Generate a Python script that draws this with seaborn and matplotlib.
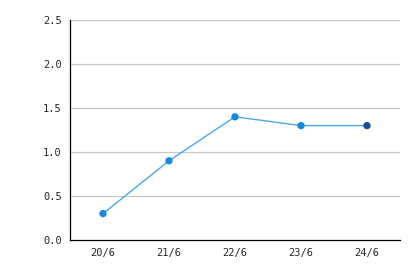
import matplotlib
matplotlib.use("Agg")
import matplotlib.pyplot as plt
import seaborn as sns
import pandas as pd

categories = ["20/6", "21/6", "22/6", "23/6", "24/6"]
values = [0.3, 0.9, 1.4, 1.3, 1.3]
point_state = ["normal", "normal", "normal", "normal", "active"]
y_ticks = [0.0, 0.5, 1.0, 1.5, 2.0, 2.5]
y_labels = ["0.0", "0.5", "1.0", "1.5", "2.0", "2.5"]

sns.set_style("white")
plt.rcParams["font.family"] = ["DejaVu Sans Mono", "DejaVu Sans"]

df = pd.DataFrame({"x": list(range(len(categories))), "y": values, "state": point_state})

fig = plt.figure(figsize=(4.2, 2.7), dpi=100)
ax = fig.add_axes([70/420, 1-240/270, 330/420, 220/270])

for t in y_ticks[1:]:
    ax.axhline(t, color="#c8c8c8", lw=0.9, zorder=0)

sns.lineplot(data=df, x="x", y="y", color="#4aa8e8", lw=1.0, ax=ax, zorder=2)
sns.scatterplot(data=df, x="x", y="y", hue="state",
                palette={"normal": "#1a8ad4", "active": "#1b4f8c"},
                s=28, edgecolor="none", legend=False, ax=ax, zorder=3)

ax.set_xlim(-0.5, len(categories) - 0.5)
ax.set_ylim(0, 2.5)
ax.set_xticks(range(len(categories)))
ax.set_xticklabels(categories)
ax.set_yticks(y_ticks)
ax.set_yticklabels(y_labels)
ax.set_xlabel("")
ax.set_ylabel("")
for s in ["top", "right"]:
    ax.spines[s].set_visible(False)
for s in ["left", "bottom"]:
    ax.spines[s].set_color("#000000")
    ax.spines[s].set_linewidth(0.9)
ax.tick_params(axis="both", labelsize=7.5, length=3, width=0.8, color="#000000", direction="out", pad=3)

fig.savefig("out.png", dpi=100)
